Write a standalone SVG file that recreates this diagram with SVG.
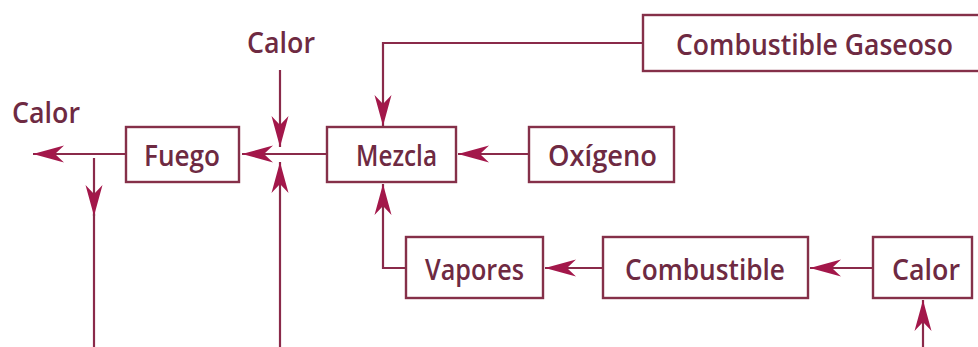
<svg xmlns="http://www.w3.org/2000/svg" width="978" height="347" viewBox="0 0 978 347">
<defs>
<style>
.box{fill:#fff;stroke:#853049;stroke-width:2.4}
.ln{fill:none;stroke:#8a2a4a;stroke-width:2.2}
.t{font-family:"Open Sans","Liberation Sans",Arial,sans-serif;font-size:29px;font-weight:600;fill:#6e2a42}
</style>
<marker id="ah" viewBox="-33 -10 34 20" refX="0" refY="0" markerWidth="34" markerHeight="20" orient="auto" markerUnits="userSpaceOnUse">
<path d="M0,0 L-31,-8.5 L-22,0 L-31,8.5 Z" fill="#a3174a"/>
</marker>
</defs>
<rect width="978" height="347" fill="#fff"/>
<g id="connectors">
<path class="ln" d="M126,154 L33,154" marker-end="url(#ah)"/>
<path class="ln" d="M94,158 L94,216" marker-end="url(#ah)"/>
<path class="ln" d="M94,214 L94,347"/>
<path class="ln" d="M280,70 L280,147" marker-end="url(#ah)"/>
<path class="ln" d="M327,154 L242,154" marker-end="url(#ah)"/>
<path class="ln" d="M280,347 L280,162" marker-end="url(#ah)"/>
<path class="ln" d="M643,43 L383,43 L383,126" marker-end="url(#ah)"/>
<path class="ln" d="M529,154 L458,154" marker-end="url(#ah)"/>
<path class="ln" d="M406,268 L383,268 L383,184" marker-end="url(#ah)"/>
<path class="ln" d="M603,268 L545,268" marker-end="url(#ah)"/>
<path class="ln" d="M873,268 L810,268" marker-end="url(#ah)"/>
<path class="ln" d="M923,347 L923,300" marker-end="url(#ah)"/>
</g>
<g id="calor-out"><text class="t" x="12" y="123" textLength="68" lengthAdjust="spacingAndGlyphs">Calor</text></g>
<g id="calor-in"><text class="t" x="247" y="53" textLength="68" lengthAdjust="spacingAndGlyphs">Calor</text></g>
<g id="fuego"><rect class="box" x="126" y="127" width="113" height="55"/><text class="t" x="144" y="166" textLength="76" lengthAdjust="spacingAndGlyphs">Fuego</text></g>
<g id="mezcla"><rect class="box" x="327" y="127" width="129" height="55"/><text class="t" x="356" y="166" textLength="81" lengthAdjust="spacingAndGlyphs">Mezcla</text></g>
<g id="oxigeno"><rect class="box" x="529" y="127" width="145" height="55"/><text class="t" x="548" y="166" textLength="109" lengthAdjust="spacingAndGlyphs">Oxígeno</text></g>
<g id="gaseoso"><rect class="box" x="643" y="15" width="340" height="56"/><text class="t" x="676" y="55" textLength="277" lengthAdjust="spacingAndGlyphs">Combustible Gaseoso</text></g>
<g id="vapores"><rect class="box" x="406" y="237" width="137" height="61"/><text class="t" x="425" y="280" textLength="99" lengthAdjust="spacingAndGlyphs">Vapores</text></g>
<g id="combustible"><rect class="box" x="603" y="237" width="205" height="61"/><text class="t" x="625" y="280" textLength="160" lengthAdjust="spacingAndGlyphs">Combustible</text></g>
<g id="calor-src"><rect class="box" x="873" y="237" width="99" height="61"/><text class="t" x="892" y="280" textLength="68" lengthAdjust="spacingAndGlyphs">Calor</text></g>
</svg>
